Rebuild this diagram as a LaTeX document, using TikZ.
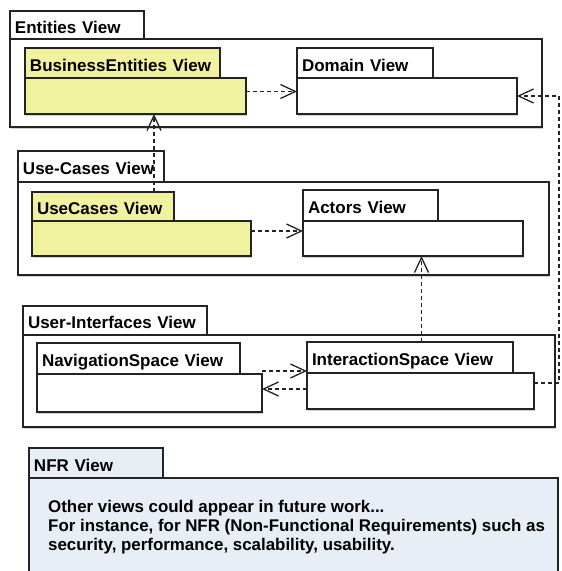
\documentclass[tikz,border=0pt]{standalone}
\usepackage{fontspec}
\setmainfont{Liberation Sans}
\usetikzlibrary{arrows.meta, shadows}
\definecolor{pkgyellow}{RGB}{240,242,160}
\definecolor{nfrblue}{RGB}{232,238,245}
\definecolor{pkgline}{RGB}{35,35,35}

\begin{document}
\begin{tikzpicture}[
  x=1pt, y=-1pt,
  >={Straight Barb[length=15pt,width=14pt]},
  pkgshadow/.style={drop shadow={shadow xshift=1pt, shadow yshift=-1.5pt, fill=black, opacity=0.18}},
  pkgtab/.style={draw=pkgline, fill=white, line width=1.2pt, outer sep=0pt, anchor=north west,
    inner xsep=5pt, inner ysep=0pt, text height=17pt, text depth=1pt, align=left,
    font=\bfseries\fontsize{17}{19}\selectfont, pkgshadow},
  pkgbody/.style={draw=pkgline, fill=white, line width=1.2pt, outer sep=0pt, anchor=north west,
    inner sep=0pt, pkgshadow},
  dep/.style={->, draw=pkgline, line width=1.3pt, dash pattern=on 4pt off 3pt},
]
\useasboundingbox (0,0) rectangle (562,571);

% Entities View
\node[pkgtab, text width=124pt, minimum height=28pt] (entviewtab) at (10,11) {Entities View};
\node[pkgbody, minimum width=532pt, minimum height=88pt] (entview) at (entviewtab.south west) {};
\node[pkgtab, fill=pkgyellow, text width=185pt, minimum height=30pt] (bizenttab) at (25,48) {BusinessEntities View};
\node[pkgbody, fill=pkgyellow, minimum width=221pt, minimum height=36pt] (bizent) at (bizenttab.south west) {};
\node[pkgtab, text width=126pt, minimum height=30pt] (domaintab) at (297,48) {Domain View};
\node[pkgbody, minimum width=220pt, minimum height=36pt] (domain) at (domaintab.south west) {};

% Use-Cases View
\node[pkgtab, text width=136pt, minimum height=31pt] (ucviewtab) at (18,151) {Use-Cases View};
\node[pkgbody, minimum width=531pt, minimum height=93pt] (ucview) at (ucviewtab.south west) {};
\node[pkgtab, fill=pkgyellow, text width=132pt, minimum height=29pt] (usecasestab) at (32,192) {UseCases View};
\node[pkgbody, fill=pkgyellow, minimum width=219pt, minimum height=35pt] (usecases) at (usecasestab.south west) {};
\node[pkgtab, text width=125pt, minimum height=31pt] (actorstab) at (303,190) {Actors View};
\node[pkgbody, minimum width=220pt, minimum height=35pt] (actors) at (actorstab.south west) {};

% User-Interfaces View
\node[pkgtab, text width=174pt, minimum height=29pt] (uiviewtab) at (23,306) {User-Interfaces View};
\node[pkgbody, minimum width=532pt, minimum height=92pt] (uiview) at (uiviewtab.south west) {};
\node[pkgtab, text width=193pt, minimum height=31pt] (navspacetab) at (37,343) {NavigationSpace View};
\node[pkgbody, minimum width=225pt, minimum height=38pt] (navspace) at (navspacetab.south west) {};
\node[pkgtab, text width=196pt, minimum height=31pt] (intspacetab) at (307,342) {InteractionSpace View};
\node[pkgbody, minimum width=227pt, minimum height=36pt] (intspace) at (intspacetab.south west) {};

% NFR View
\node[pkgtab, fill=nfrblue, text width=124pt, minimum height=30pt] (nfrtab) at (29,448) {NFR View};
\node[pkgbody, fill=nfrblue, minimum width=529pt, minimum height=94pt] (nfr) at (nfrtab.south west) {};
\node[anchor=north west, inner sep=0pt, align=left, font=\bfseries\fontsize{16.9}{19}\selectfont] (nfrnote) at (48,500)
  {Other views could appear in future work...\\
   For instance, for NFR (Non-Functional Requirements) such as\\
   security, performance, scalability, usability.};

% dependencies
\coordinate (rail) at (559,0);
\draw[dep] ([yshift=4.5pt]bizent.east) -- ([yshift=4.5pt]domain.west);
\draw[dep] ([xshift=51pt]usecasestab.north) -- ([xshift=18.5pt]bizent.south);
\draw[dep] ([yshift=7.5pt]usecases.east) -- ([yshift=7.5pt]actors.west);
\draw[dep] ([xshift=11.5pt]intspacetab.north) -- ([xshift=8.5pt]actors.south);
\draw[dep] ([yshift=3pt]navspace.north east) -- ([yshift=2pt]intspace.north west);
\draw[dep] ([yshift=-16pt]intspace.north west) -- ([yshift=-15pt]navspace.north east);
\draw[dep] ([yshift=-10pt]intspace.north east) -| (rail |- domain.east) -- (domain.east);
\end{tikzpicture}
\end{document}
